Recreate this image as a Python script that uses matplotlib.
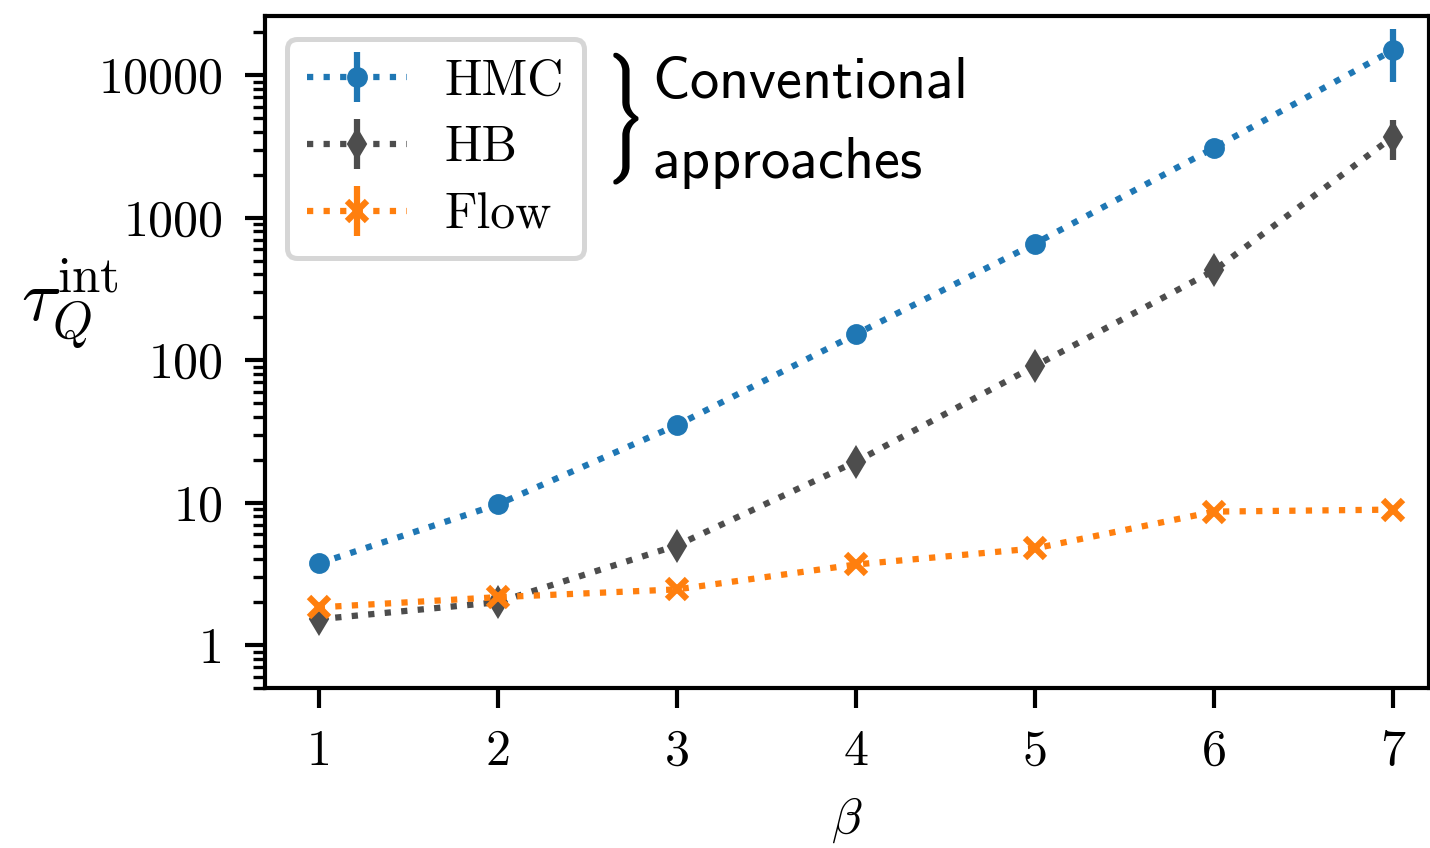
import os
import matplotlib
matplotlib.use("Agg")
import matplotlib.pyplot as plt
import matplotlib.patheffects as pe
from matplotlib.font_manager import FontProperties
from matplotlib.ticker import FixedLocator, FuncFormatter, LogLocator, NullFormatter

# Integrated autocorrelation time of the topological charge vs. beta
beta = [1, 2, 3, 4, 5, 6, 7]

tau_hmc = [3.74, 9.7, 35.0, 152, 658, 3090, 15000]
err_hmc = [0.1, 0.3, 1.2, 6, 25, 150, 6000]

tau_hb = [1.52, 2.0, 5.0, 19.4, 91, 426, 3700]
err_hb = [0.05, 0.08, 0.2, 0.8, 4, 25, 1150]

tau_flow = [1.84, 2.17, 2.46, 3.68, 4.77, 8.65, 8.93]
err_flow = [0.05, 0.05, 0.06, 0.1, 0.12, 0.25, 0.3]

labels = ["HMC", "HB", "Flow"]
colors = ["#1f77b4", "#4d4d4d", "#ff7f0e"]
markers = ["o", "d", "x"]

yticks = [1, 10, 100, 1000, 10000]

plt.rcParams.update({
    "font.family": "serif",
    "font.serif": ["cmr10", "DejaVu Serif"],
    "mathtext.fontset": "cm",
    "axes.formatter.use_mathtext": True,
    "font.size": 12,
    "axes.linewidth": 1.0,
    "xtick.major.size": 4.8,
    "xtick.major.width": 1.0,
    "ytick.major.size": 4.8,
    "ytick.major.width": 1.0,
    "ytick.minor.size": 2.9,
    "ytick.minor.width": 0.8,
    "xtick.direction": "out",
    "ytick.direction": "out",
})

fig = plt.figure(figsize=(1431 / 300, 848 / 300), dpi=300)
ax = fig.add_axes([265 / 1431, 160 / 848, 1164 / 1431, 672 / 848])

series = [(tau_hmc, err_hmc), (tau_hb, err_hb), (tau_flow, err_flow)]
for (vals, errs), lab, col, mk in zip(series, labels, colors, markers):
    ms = {"o": 4.5, "d": 5.2, "x": 4.8}[mk]
    mew = 1.5 if mk == "x" else 0.5
    ax.errorbar(beta, vals, yerr=errs, fmt=mk, linestyle=":", color=col,
                lw=1.5, elinewidth=1.5, capsize=0, ms=ms, mew=mew,
                label=lab)

ax.set_yscale("log")
ax.set_xlim(0.7, 7.2)
ax.set_ylim(0.5, 26000)

ax.xaxis.set_major_locator(FixedLocator(beta))
ax.xaxis.set_major_formatter(FuncFormatter(lambda v, p: f"{int(round(v))}"))
ax.yaxis.set_major_locator(FixedLocator(yticks))
ax.yaxis.set_major_formatter(FuncFormatter(lambda v, p: f"{int(round(v))}"))
ax.yaxis.set_minor_locator(LogLocator(base=10, subs=range(2, 10), numticks=20))
ax.yaxis.set_minor_formatter(NullFormatter())
ax.tick_params(axis="both", which="major", labelsize=12, pad=5)
ax.tick_params(axis="x", which="minor", bottom=False)

ax.set_xlabel(r"$\beta$", fontsize=12, labelpad=5)
ax.set_ylabel(r"$\tau_Q^{\mathrm{int}}$", fontsize=17.5, rotation=0,
              ha="center", va="center")
ax.yaxis.set_label_coords(-0.168, 0.57)

leg = ax.legend(loc="upper left", fontsize=12, frameon=True, fancybox=True,
                framealpha=1.0, edgecolor="#d6d6d6", borderaxespad=0.45,
                labelspacing=0.42, handletextpad=0.75)
leg.get_frame().set_linewidth(1.2)

# Large right brace from the Computer Modern extension font
cmex = FontProperties(fname=os.path.join(matplotlib.get_data_path(),
                                         "fonts", "ttf", "cmex10.ttf"),
                      size=10.3)
ax.text(0.3101, 0.8445, "\u0029", transform=ax.transAxes,
        fontproperties=cmex, ha="center", va="center",
        path_effects=[pe.withStroke(linewidth=0.7, foreground="black")])
ax.text(0.3325, 0.878, r"$\mathsf{Conventional}$", transform=ax.transAxes,
        fontsize=14, ha="left", va="baseline")
ax.text(0.3325, 0.759, r"$\mathsf{approaches}$", transform=ax.transAxes,
        fontsize=14, ha="left", va="baseline")

fig.savefig("out.png", dpi=300)
